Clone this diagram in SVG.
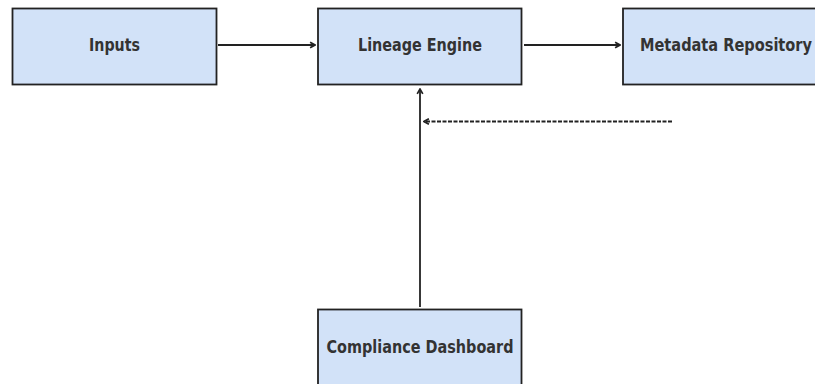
<svg xmlns="http://www.w3.org/2000/svg" width="815" height="384" viewBox="0 0 815 384">
<style>
.box{fill:#d2e2f8;stroke:#222;stroke-width:1.8}
.lbl{font-family:"DejaVu Sans",sans-serif;font-weight:bold;font-size:18px;fill:#333;text-anchor:middle}
.edge{stroke:#222;stroke-width:1.8;fill:none}
.dash{stroke-dasharray:4,1.5}
</style>
<defs>
<marker id="ah" viewBox="0 0 10 10" refX="9" refY="5" markerWidth="7" markerHeight="8" markerUnits="userSpaceOnUse" orient="auto">
<path d="M2,1 L9,5 L2,9" fill="none" stroke="#222" stroke-width="2.4"/>
</marker>
</defs>
<g id="inputs"><rect class="box" x="12.5" y="8.5" width="204" height="76"/><text class="lbl" x="114.5" y="51" textLength="51" lengthAdjust="spacingAndGlyphs">Inputs</text></g>
<g id="lineage"><rect class="box" x="318" y="8.5" width="203.5" height="76"/><text class="lbl" x="420" y="51" textLength="124" lengthAdjust="spacingAndGlyphs">Lineage Engine</text></g>
<g id="metadata"><rect class="box" x="623" y="8.5" width="206" height="76"/><text class="lbl" x="726" y="51" textLength="172" lengthAdjust="spacingAndGlyphs">Metadata Repository</text></g>
<g id="dashboard"><rect class="box" x="318" y="309.5" width="203.5" height="76"/><text class="lbl" x="420" y="352.5" textLength="187" lengthAdjust="spacingAndGlyphs">Compliance Dashboard</text></g>
<g id="connectors">
<line class="edge" x1="218" y1="45" x2="315" y2="45" marker-end="url(#ah)"/>
<line class="edge" x1="524" y1="45" x2="620" y2="45" marker-end="url(#ah)"/>
<line class="edge" x1="420" y1="307" x2="420" y2="89" marker-end="url(#ah)" stroke="#666"/>
<line class="edge dash" x1="672" y1="121.5" x2="424" y2="121.5" marker-end="url(#ah)"/>
</g>
</svg>
